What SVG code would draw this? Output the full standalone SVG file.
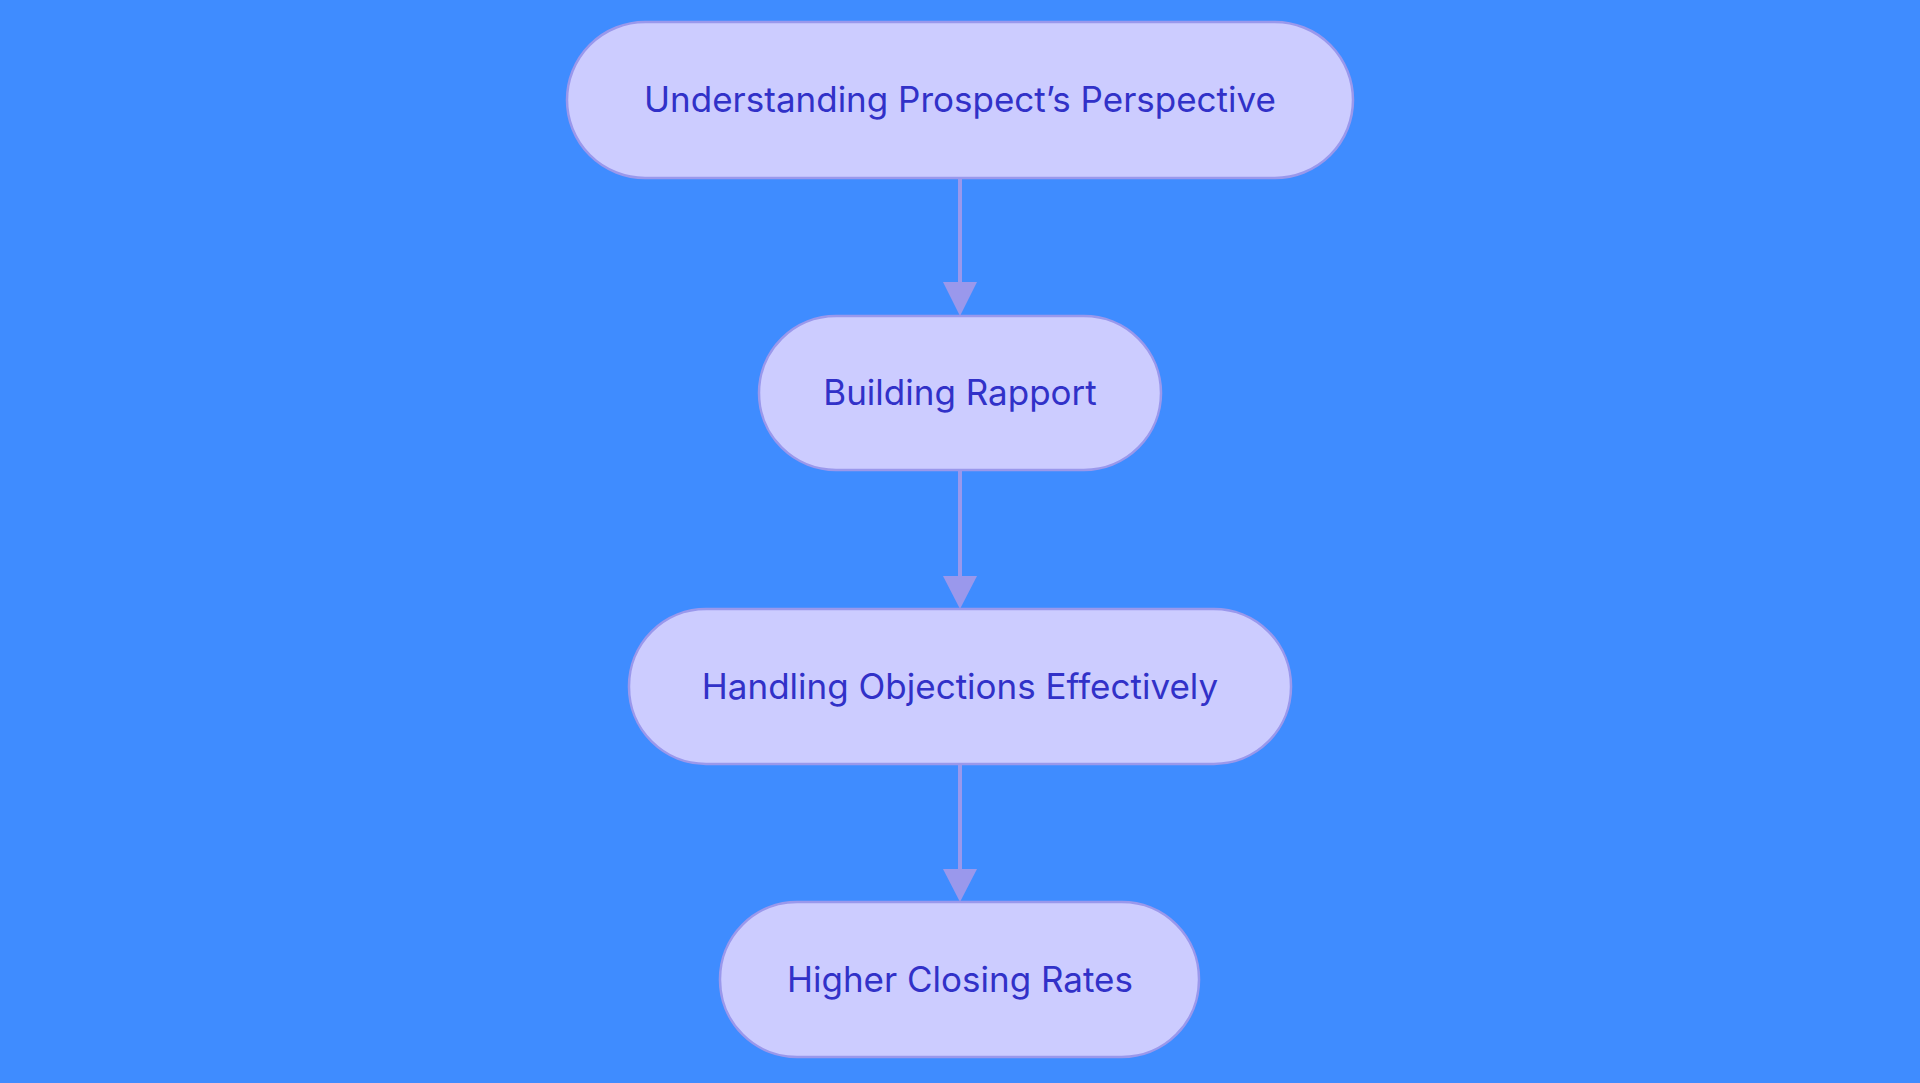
<svg xmlns="http://www.w3.org/2000/svg" width="1920" height="1083" viewBox="0 0 1920 1083">
<style>
.n{fill:#CCCCFF;stroke:#9A98EC;stroke-width:2.5}
.t{font-family:Inter,"Noto Sans",sans-serif;font-size:35px;fill:#3131C8;text-anchor:middle;dominant-baseline:central}
.e{stroke:#9A98EC;stroke-width:4;fill:none}
</style>
<defs><marker id="a" markerWidth="10" markerHeight="10" refX="9" refY="5" orient="auto" markerUnits="userSpaceOnUse" viewBox="0 0 10 10"><path d="M0,0L10,5L0,10Z" fill="#9A98EC"/></marker></defs>
<rect width="1920" height="1083" fill="#3F8CFF"/>
<g id="connectors">
<path class="e" d="M960,178V282"/><path d="M943,282h34l-17,34z" fill="#9A98EC"/>
<path class="e" d="M960,470V576"/><path d="M943,576h34l-17,33z" fill="#9A98EC"/>
<path class="e" d="M960,764V869"/><path d="M943,869h34l-17,33z" fill="#9A98EC"/>
</g>
<g id="n1"><rect class="n" x="567" y="22" width="786" height="156" rx="78"/><text class="t" x="960" y="99">Understanding Prospect’s Perspective</text></g>
<g id="n2"><rect class="n" x="759" y="316" width="402" height="154" rx="77"/><text class="t" x="960" y="392">Building Rapport</text></g>
<g id="n3"><rect class="n" x="629" y="609" width="662" height="155" rx="77"/><text class="t" x="960" y="686">Handling Objections Effectively</text></g>
<g id="n4"><rect class="n" x="720" y="902" width="479" height="155" rx="77"/><text class="t" x="960" y="979">Higher Closing Rates</text></g>
</svg>
